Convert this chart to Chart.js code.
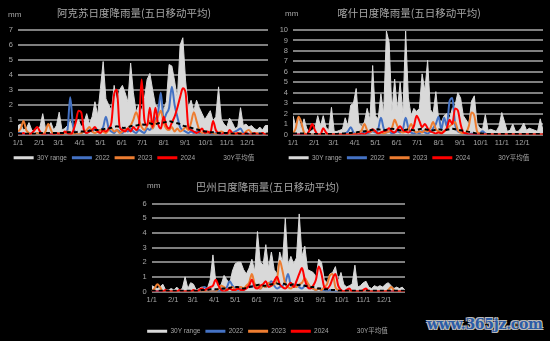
<!DOCTYPE html>
<html>
<head>
<meta charset="utf-8">
<script src="https://cdn.jsdelivr.net/npm/chart.js@4"></script>
<style>
  body { margin: 0; background: #000; width: 550px; height: 341px; position: relative; overflow: hidden; }
  .panel { position: absolute; }
  .unit { position: absolute; color: #a6a6a6; font: 8px "Liberation Sans", Arial, sans-serif; }
  .mark { position: absolute; left: 427px; top: 316px; font: bold 14px "DejaVu Serif", serif; color: #2b5ca6;
          text-shadow: -1px -1px 0 #bbb, 1px -1px 0 #bbb, -1px 1px 0 #bbb, 1px 1px 0 #bbb; letter-spacing: -0.3px; }
</style>
</head>
<body>
<div class="panel" style="left:0;top:0"><canvas id="aksu" width="275" height="170"></canvas></div>
<div class="panel" style="left:275px;top:0"><canvas id="kashi" width="275" height="170"></canvas></div>
<div class="panel" style="left:130px;top:170px"><canvas id="bazhou" width="290" height="171"></canvas></div>
<div class="unit" style="left:8px;top:10px">mm</div>
<div class="unit" style="left:285px;top:9px">mm</div>
<div class="unit" style="left:147px;top:181px">mm</div>
<div class="mark">www.365jz.com</div>
<script>
// sampled every 4 days through the year (day 0 = 1/1)
const days = [];
for (let d = 0; d <= 364; d += 4) days.push(d);

const monthStarts = [0, 31, 59, 90, 120, 151, 181, 212, 243, 273, 304, 334];
const monthLabels = ['1/1', '2/1', '3/1', '4/1', '5/1', '6/1', '7/1', '8/1', '9/1', '10/1', '11/1', '12/1'];
const seriesNames = ['30Y range', '2022', '2023', '2024', '30Y平均值'];

// 阿克苏
const aksuRange = [0.6,0.7,0.3,0.4,0.8,0.3,0.2,0.4,0.5,1.4,
  0.4,0.5,0.8,0.3,0.6,1.5,0.3,0.4,0.6,0.9,
  0.5,0.7,1.0,0.5,0.8,1.4,0.7,1.2,2.2,1.3,
  3.1,4.9,2.4,2.0,1.6,3.3,2.2,3.0,3.3,2.8,
  2.2,4.8,2.8,1.5,2.0,1.6,2.4,3.7,4.1,3.0,
  2.0,1.8,2.5,1.6,2.2,4.7,4.6,3.6,2.4,6.0,
  6.5,3.6,1.8,2.3,1.6,2.3,1.8,1.4,1.0,1.3,
  1.6,0.9,1.2,3.2,1.0,0.7,0.5,1.1,0.8,0.4,
  0.5,1.8,0.6,0.7,0.5,0.6,0.4,0.3,0.5,0.3,
  0.6,0.6];
const aksu2022 = [0.1,0.1,0,0,0.1,0,0,0.1,0,0,
  0,0,0,0,0,0.1,0,0.1,0.3,2.5,
  0.6,0.1,0,0.1,0.2,0.1,0.3,0.2,0.4,0.3,
  0.3,0.5,1.2,0.4,0.2,0.1,0.3,0.2,0.1,0.3,
  0.2,0.4,0.2,0.1,0.3,0.2,0.1,0.4,0.3,0.6,
  1.0,1.5,2.8,1.0,1.4,1.8,3.2,2.0,1.2,0.5,
  0.3,0.2,0.1,0.2,0.1,0.2,0.1,0.1,0.2,0.1,
  0.1,0,0.1,0,0.1,0,0,0.1,0.1,0.2,
  0.3,0.4,0.1,0,0,0.1,0,0,0.1,0,
  0,0.1];
const aksu2023 = [0.2,0.4,0.9,0.3,0.1,0,0,0.1,0,0,
  0.2,0.7,0.3,0,0,0.1,0,0.1,0.2,0.1,
  0,0.1,0,0.1,0.2,0.3,0.5,0.2,0.1,0.2,
  0.3,0.2,0.1,0.3,0.4,0.2,0.3,0.1,0.2,0.3,
  0.4,0.6,1.0,1.5,1.0,0.5,0.3,0.6,0.9,0.4,
  0.8,1.2,1.6,0.8,0.4,0.3,0.5,0.2,0.4,0.2,
  0.3,0.5,0.3,0.8,1.5,0.9,0.3,0.1,0.2,0.1,
  0.2,0.1,0,0.1,0.2,0.1,0,0.1,0,0.1,
  0,0.1,0,0.2,0.3,0.1,0,0.1,0,0.1,
  0,0.1];
const aksu2024 = [0,0,0.1,0,0,0.1,0.3,0.5,0.2,0,
  0,0.1,0,0,0.1,0,0,0.2,0.1,0,
  0.2,0.8,1.6,1.5,0.3,0.1,0.2,0.3,0.5,0.2,
  0.1,0.3,0.2,0.4,0.8,2.7,3.0,0.5,0.3,0.2,
  0.4,0.2,0.5,0.3,0.6,3.7,1.0,0.6,1.8,0.5,
  1.8,0.7,0.4,1.2,0.6,0.4,0.8,1.2,1.8,2.5,
  3.1,2.8,0.5,0.3,0.2,0.1,0.2,0.4,0.1,0.2,
  0.1,0.9,0.3,0.1,0,0.1,0,0.3,0.1,0,
  0.1,0,0,0.1,0,0,0.1,0,0,0.1,
  0,0];
const aksuAvg = [0.05,0.05,0.05,0.05,0.05,0.05,0.05,0.1,0.1,0.1,
  0.1,0.1,0.1,0.1,0.1,0.1,0.1,0.1,0.15,0.15,
  0.15,0.15,0.2,0.2,0.2,0.2,0.25,0.25,0.3,0.3,
  0.35,0.35,0.4,0.4,0.45,0.5,0.55,0.5,0.45,0.45,
  0.5,0.55,0.6,0.6,0.65,0.7,0.65,0.7,0.75,0.7,
  0.7,0.75,0.8,0.8,0.85,0.9,0.85,0.8,0.75,0.7,
  0.6,0.55,0.5,0.45,0.4,0.35,0.3,0.25,0.2,0.2,
  0.15,0.15,0.1,0.1,0.1,0.1,0.1,0.05,0.05,0.05,
  0.05,0.05,0.05,0.05,0.05,0.05,0.05,0.05,0.05,0.05,
  0.05,0.05];

// 喀什
const kashiRange = [1.8,0.8,1.6,0.5,1.5,0.6,0.2,0.4,0.6,1.8,
  0.8,1.8,0.7,0.4,2.6,0.3,0.3,0.4,0.5,1.6,
  0.8,2.8,3.0,4.4,1.0,0.8,1.2,2.5,1.4,6.6,
  1.8,1.5,3.9,2.0,9.9,8.8,2.2,5.3,2.4,5.0,
  2.0,9.9,3.5,1.8,2.5,2.2,2.5,5.8,4.2,7.1,
  2.4,2.0,4.1,1.5,1.2,1.8,2.0,1.5,2.5,2.8,
  4.0,3.5,1.8,1.4,1.0,3.2,3.7,1.0,0.6,0.5,
  1.9,0.4,0.5,0.4,0.3,0.8,2.1,1.2,0.3,0.4,
  1.0,0.3,0.3,0.6,1.1,0.4,0.6,0.5,0.4,0.3,
  1.5,0.4];
const kashi2022 = [0,0,0,0,0,0,0,0,0,0,
  0,0,0,0,0,0,0,0,0,0.1,
  0.3,0.7,0.2,0,0,0.1,0.2,0.1,0.2,0.3,
  0.2,0.5,1.6,0.6,0.2,0.3,0.1,0.2,0.3,0.2,
  0.5,1.6,0.6,0.2,0.1,0.2,0.1,0.3,0.2,0.1,
  0.3,0.6,1.0,1.7,0.5,1.6,0.8,3.2,3.5,1.0,
  0.3,0.2,0.1,0,0,0.1,0,0,0.1,0.3,
  0.1,0,0,0,0,0,0,0,0,0,
  0,0,0,0,0,0,0,0,0,0,
  0,0];
const kashi2023 = [0.1,0.6,1.7,1.2,0.2,0,0,0,0,0,
  0,0,0,0,0,0,0,0,0,0,
  0,0,0,0.1,0.2,0.4,1.0,0.4,0.2,0.4,
  0.3,0.1,0.2,0.1,0.2,0.3,0.6,1.4,0.8,0.3,
  0.2,0.3,0.5,1.0,0.4,0.2,0.3,0.2,0.4,0.3,
  0.6,1.2,0.5,0.3,0.2,0.3,0.5,0.8,1.0,1.2,
  0.4,0.2,0.1,0.2,0.8,2.1,1.8,0.3,0.1,0,
  0,0,0,0,0,0,0,0,0,0,
  0,0,0,0,0,0,0,0,0,0,
  0,0];
const kashi2024 = [0,0,0,0,0,0,0.4,1.0,0.4,0,
  0,0.6,0.2,0,0,0,0,0,0,0,
  0,0,0,0,0,0.1,0,0.2,0.3,0.5,
  0.3,0.1,0.2,0.3,0.4,0.6,0.3,0.2,0.5,0.8,
  0.4,0.3,0.2,0.4,0.8,1.8,1.3,0.7,1.0,0.6,
  0.3,0.2,0.1,0.2,0.1,0.3,0.6,1.4,1.0,2.5,
  2.3,1.0,0.2,0.1,0,0,0,0,0,0,
  0,0,0,0,0,0,0,0,0,0,
  0,0,0,0,0,0,0,0,0,0,
  0,0];
const kashiAvg = [0.1,0.1,0.1,0.1,0.1,0.1,0.05,0.05,0.05,0.05,
  0.05,0.05,0.05,0.05,0.05,0.05,0.05,0.1,0.1,0.1,
  0.15,0.15,0.2,0.2,0.25,0.3,0.3,0.35,0.4,0.45,
  0.5,0.5,0.45,0.4,0.45,0.5,0.55,0.5,0.45,0.4,
  0.4,0.45,0.5,0.45,0.4,0.45,0.5,0.55,0.5,0.45,
  0.4,0.4,0.45,0.5,0.45,0.4,0.45,0.5,0.55,0.5,
  0.45,0.4,0.35,0.3,0.25,0.2,0.15,0.1,0.1,0.1,
  0.05,0.05,0.05,0.05,0.05,0.05,0.05,0.05,0.05,0.05,
  0.05,0.05,0.05,0.05,0.05,0.05,0.05,0.05,0.05,0.05,
  0.05,0.05];

// 巴州
const bazhouRange = [0.4,0.3,0.2,0.3,0.5,0.1,0.1,0.2,0.1,0.3,
  0.1,0.2,1.0,0.2,0.6,0.5,0.1,0.2,0.3,0.3,
  0.2,0.8,2.5,0.7,0.3,0.5,1.1,0.8,0.5,1.4,
  1.9,2.0,2.0,1.5,1.2,1.6,2.2,1.4,4.1,2.0,
  1.8,3.2,1.6,2.7,1.5,1.2,2.7,2.0,5.0,1.8,
  2.4,1.9,2.3,5.3,2.4,3.1,1.5,1.4,1.3,1.0,
  2.2,2.0,0.8,0.6,1.2,1.3,1.7,0.7,1.3,0.5,
  0.3,0.4,0.5,1.8,0.3,0.4,0.6,0.7,0.3,0.2,
  0.4,0.3,0.4,0.3,0.5,0.6,0.4,0.2,0.3,0.2,
  0.3,0.1];
const bazhou2022 = [0,0,0,0,0,0,0,0,0,0,
  0,0,0,0,0,0,0,0,0.1,0.3,
  0.1,0,0,0.1,0,0.1,0.2,0.3,0.7,0.4,
  0.2,0.1,0.2,0.1,0.3,0.4,0.3,0.5,0.3,0.2,
  0.4,0.3,0.5,0.7,0.4,0.2,0.3,0.4,0.6,1.2,
  0.4,0.3,0.5,0.3,0.2,0.4,0.5,0.3,0.2,0.1,
  0.2,0.1,0.1,0,0.1,0,0,0,0,0,
  0,0,0,0,0,0,0,0,0,0,
  0,0,0,0,0,0,0,0,0,0,
  0,0];
const bazhou2023 = [0,0.2,0.5,0.3,0,0,0,0,0,0,
  0,0,0,0,0,0,0,0,0,0,
  0,0,0,0,0.2,0.4,0.3,0.1,0.2,0.3,
  0.1,0.2,0.3,0.2,0.4,0.6,1.2,0.5,0.3,0.2,
  0.4,0.3,0.6,0.4,0.5,0.8,2.1,1.4,0.5,0.3,
  0.2,0.4,0.3,0.5,0.6,0.9,0.6,0.3,0.2,0.1,
  0.2,0.1,0.3,0.5,1.1,1.2,0.3,0.1,0,0,
  0,0,0,0,0,0,0,0,0,0,
  0,0,0,0,0,0.1,0.3,0.1,0,0,
  0,0];
const bazhou2024 = [0,0,0,0,0,0.1,0,0,0,0,
  0.1,0,0,0,0,0.1,0,0.1,0.2,0.1,
  0.2,0.3,0.4,0.8,0.4,0.1,0,0.1,0.2,0.1,
  0.1,0.2,0.1,0.1,0.2,0.4,0.8,0.3,0.2,0.4,
  0.5,0.7,0.3,0.4,0.7,1.0,0.5,0.3,0.2,0.4,
  0.6,0.3,0.7,1.2,1.6,0.8,0.3,0.2,0.4,0.8,
  1.7,1.2,0.3,0.2,0.4,0.9,1.2,0.4,0.1,0,
  0.1,0.2,0,0,0,0,0.1,0.2,0,0,
  0,0,0,0,0,0,0,0,0,0,
  0,0];
const bazhouAvg = [0.05,0.05,0.05,0.05,0.05,0.05,0.05,0.05,0.05,0.05,
  0.05,0.05,0.05,0.05,0.05,0.05,0.05,0.05,0.1,0.1,
  0.1,0.15,0.15,0.15,0.15,0.2,0.2,0.2,0.25,0.3,
  0.3,0.3,0.25,0.2,0.25,0.3,0.35,0.4,0.45,0.45,
  0.4,0.4,0.45,0.5,0.5,0.55,0.5,0.55,0.5,0.45,
  0.45,0.5,0.45,0.45,0.4,0.4,0.35,0.3,0.3,0.25,
  0.2,0.2,0.15,0.15,0.1,0.1,0.1,0.05,0.05,0.05,
  0.05,0.05,0.05,0.05,0.05,0.05,0.05,0.05,0.05,0.05,
  0.05,0.05,0.05,0.05,0.05,0.05,0.05,0.05,0.05,0.05,
  0.05,0.05];

const textGrey = '#a6a6a6';
const tickFont = { family: '"Liberation Sans", Arial, sans-serif', size: 7.5 };
const legendFont = { family: '"Liberation Sans", "Noto Sans CJK SC", sans-serif', size: 6.5 };

function rainChart(id, title, yMax, series, box) {
  const [range, y22, y23, y24, avg] = series;
  const line = (label, data, color, order) => ({
    label, data, order,
    borderColor: color, backgroundColor: color, borderWidth: 2,
    pointRadius: 0, cubicInterpolationMode: 'monotone', fill: false,
  });
  return new Chart(document.getElementById(id), {
    type: 'line',
    data: {
      labels: days,
      datasets: [
        { label: seriesNames[0], data: range, order: 4, borderColor: '#d9d9d9', backgroundColor: '#d9d9d9',
          borderWidth: 1, pointRadius: 0, tension: 0, fill: 'origin' },
        line(seriesNames[1], y22, '#4472c4', 3),
        line(seriesNames[2], y23, '#ed7d31', 2),
        line(seriesNames[3], y24, '#ff0000', 1),
        { label: seriesNames[4], data: avg, order: 0, borderColor: '#000', backgroundColor: '#000',
          borderWidth: 2, borderDash: [4, 3], pointRadius: 0, tension: 0.3, fill: false },
      ],
    },
    options: {
      responsive: false,
      devicePixelRatio: 1,
      animation: false,
      layout: { padding: box.padding },
      scales: {
        x: {
          type: 'linear', min: 0, max: 364,
          grid: { display: false, drawTicks: false }, border: { display: false },
          ticks: {
            color: textGrey, font: tickFont, padding: 3.5, maxRotation: 0, autoSkip: false,
            callback: (v) => monthLabels[monthStarts.indexOf(v)],
          },
          afterBuildTicks: (s) => { s.ticks = monthStarts.map((v) => ({ value: v })); },
          afterFit: (s) => { s.height = box.xHeight; },
        },
        y: {
          min: 0, max: yMax,
          grid: { color: '#7f7f7f', lineWidth: 2, drawTicks: false }, border: { display: false },
          ticks: { stepSize: 1, autoSkip: false, color: textGrey, font: tickFont, padding: 5 },
          afterFit: (s) => { s.width = box.yWidth; },
        },
      },
      plugins: {
        title: {
          display: true, text: title, color: textGrey,
          font: { family: '"Noto Sans CJK SC", sans-serif', size: 10.5, weight: 'normal' },
          padding: box.titlePad,
        },
        legend: {
          position: 'bottom',
          labels: {
            color: textGrey, font: legendFont, boxWidth: 20, boxHeight: 3, padding: 5,
            sort: (a, b) => a.datasetIndex - b.datasetIndex,
            generateLabels: (chart) => {
              const items = Chart.defaults.plugins.legend.labels.generateLabels(chart);
              items.forEach((it) => { it.lineWidth = 0; it.lineDash = []; });
              return items;
            },
          },
        },
        tooltip: { enabled: false },
      },
    },
  });
}

rainChart('aksu', '阿克苏日度降雨量(五日移动平均)', 7,
  [aksuRange, aksu2022, aksu2023, aksu2024, aksuAvg],
  { padding: { left: 0, right: 7, top: 0, bottom: -1 }, titlePad: { top: 7, bottom: 10.7 }, xHeight: 15, yWidth: 18 });
rainChart('kashi', '喀什日度降雨量(五日移动平均)', 10,
  [kashiRange, kashi2022, kashi2023, kashi2024, kashiAvg],
  { padding: { left: 0, right: 7, top: 0, bottom: -1 }, titlePad: { top: 7, bottom: 10.4 }, xHeight: 15, yWidth: 18 });
rainChart('bazhou', '巴州日度降雨量(五日移动平均)', 6,
  [bazhouRange, bazhou2022, bazhou2023, bazhou2024, bazhouAvg],
  { padding: { left: 0, right: 15, top: 0, bottom: -3.5 }, titlePad: { top: 10.4, bottom: 10.7 }, xHeight: 31.5, yWidth: 21.7 });
</script>
</body>
</html>
